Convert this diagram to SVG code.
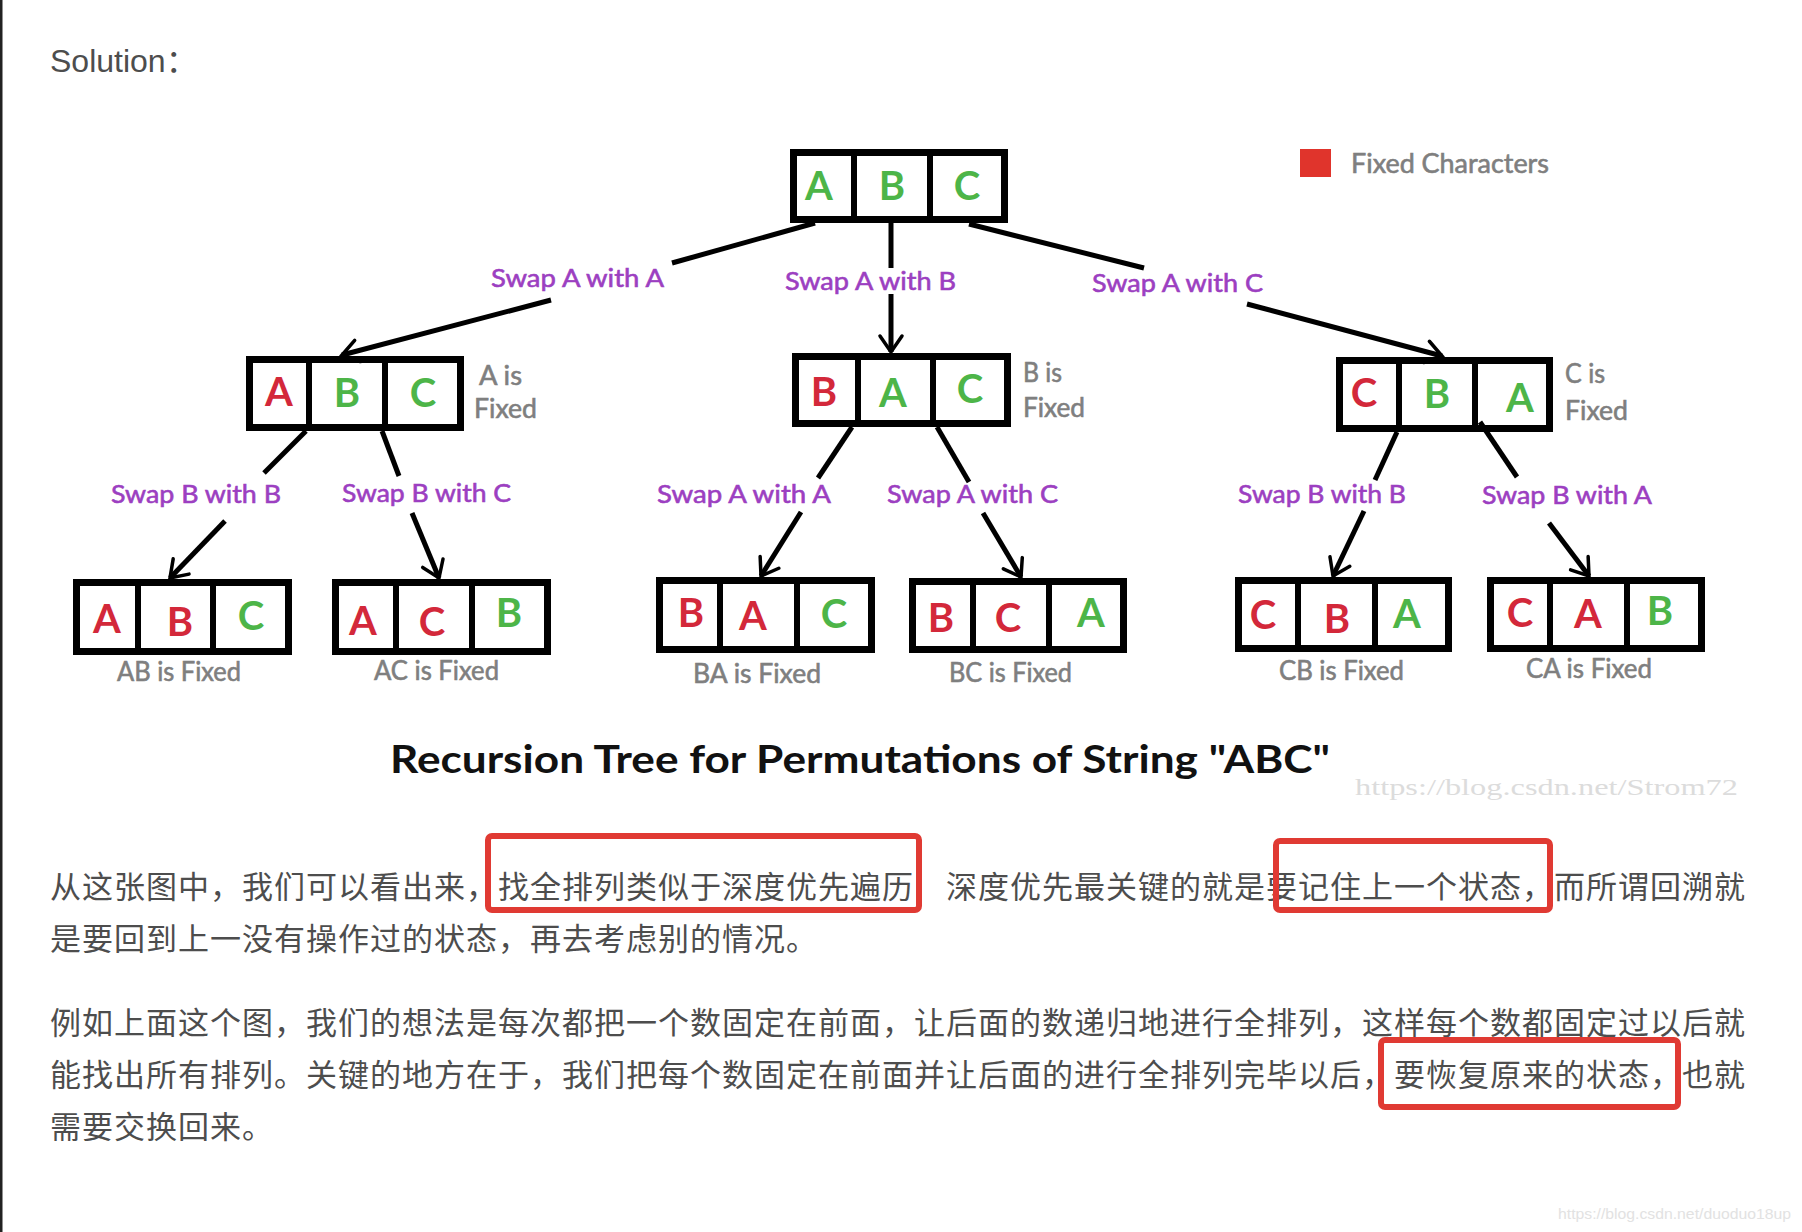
<svg xmlns="http://www.w3.org/2000/svg" width="1802" height="1232" viewBox="0 0 1802 1232">
<defs>
<marker id="arr" markerUnits="userSpaceOnUse" viewBox="-20 -14 24 28" refX="0" refY="0" markerWidth="24" markerHeight="28" orient="auto" overflow="visible">
<path d="M-16,-11 L0,0 L-16,11" fill="none" stroke="#000" stroke-width="3.5" stroke-linecap="round" stroke-linejoin="miter"/>
</marker>
</defs>
<style>
.box{fill:#fff;stroke:#000;stroke-width:7}
.dv{stroke:#000;stroke-width:6}
.lt{font-family:Lato,"Open Sans","Liberation Sans",sans-serif;font-size:40px;font-weight:700;text-anchor:middle}
.g{fill:#4db548}
.r{fill:#d3283a}
.sw{font-family:Lato,"Open Sans","Liberation Sans",sans-serif;font-size:25px;fill:#9c3fc1;stroke:#9c3fc1;stroke-width:0.6px}
.fx{font-family:Lato,"Open Sans","Liberation Sans",sans-serif;font-size:26px;fill:#7f7f7f;stroke:#7f7f7f;stroke-width:0.6px}
.ln{stroke:#000;stroke-width:5;fill:none}
.ar{marker-end:url(#arr)}
.cn{font-family:"Noto Sans CJK SC","Noto Sans CJK JP",sans-serif;font-size:31px;letter-spacing:1px;fill:#4d4d4d}
.hl{fill:none;stroke:#e03a33;stroke-width:6}
</style>
<rect x="0" y="0" width="1802" height="1232" fill="#fff"/>
<rect x="0" y="0" width="2.5" height="1232" fill="#222"/>

<text x="50" y="72" font-family="'Liberation Sans',Arial,'Noto Sans CJK SC',sans-serif" font-size="32" fill="#4d4d4d">Solution：</text>

<g id="legend">
<rect x="1300" y="149" width="31" height="28" fill="#e0342c"/>
<text class="fx" x="1351" y="173" font-size="25" textLength="198" lengthAdjust="spacingAndGlyphs">Fixed Characters</text>
</g>

<g id="node-root">
<rect class="box" x="793.5" y="152.5" width="211" height="67"/>
<line class="dv" x1="854" y1="149" x2="854" y2="223"/>
<line class="dv" x1="930" y1="149" x2="930" y2="223"/>
<text class="lt g" x="819" y="200" font-size="38">A</text>
<text class="lt g" x="892" y="200" font-size="38">B</text>
<text class="lt g" x="967" y="200" font-size="38">C</text>
</g>

<g id="node-abc-a">
<rect class="box" x="249.5" y="359.5" width="211" height="68"/>
<line class="dv" x1="309" y1="356" x2="309" y2="431"/>
<line class="dv" x1="385" y1="356" x2="385" y2="431"/>
<text class="lt r" x="279" y="406">A</text>
<text class="lt g" x="347" y="407">B</text>
<text class="lt g" x="423" y="407">C</text>
<text class="fx" x="479" y="385" textLength="43" lengthAdjust="spacingAndGlyphs">A is</text>
<text class="fx" x="474" y="418" textLength="63" lengthAdjust="spacingAndGlyphs">Fixed</text>
</g>

<g id="node-bac-b">
<rect class="box" x="795.5" y="356.5" width="212" height="67"/>
<line class="dv" x1="858" y1="353" x2="858" y2="427"/>
<line class="dv" x1="933" y1="353" x2="933" y2="427"/>
<text class="lt r" x="824" y="406">B</text>
<text class="lt g" x="893" y="407">A</text>
<text class="lt g" x="970" y="403">C</text>
<text class="fx" x="1023" y="382" textLength="39" lengthAdjust="spacingAndGlyphs">B is</text>
<text class="fx" x="1023" y="417" textLength="62" lengthAdjust="spacingAndGlyphs">Fixed</text>
</g>

<g id="node-cba-c">
<rect class="box" x="1339.5" y="360.5" width="210" height="68"/>
<line class="dv" x1="1399" y1="357" x2="1399" y2="432"/>
<line class="dv" x1="1475" y1="357" x2="1475" y2="432"/>
<text class="lt r" x="1364" y="407">C</text>
<text class="lt g" x="1437" y="408">B</text>
<text class="lt g" x="1520" y="412">A</text>
<text class="fx" x="1565" y="383" textLength="40" lengthAdjust="spacingAndGlyphs">C is</text>
<text class="fx" x="1565" y="420" textLength="63" lengthAdjust="spacingAndGlyphs">Fixed</text>
</g>

<g id="node-abc-ab">
<rect class="box" x="76.5" y="582.5" width="212" height="69"/>
<line class="dv" x1="138" y1="579" x2="138" y2="655"/>
<line class="dv" x1="213" y1="579" x2="213" y2="655"/>
<text class="lt r" x="107" y="633">A</text>
<text class="lt r" x="180" y="636">B</text>
<text class="lt g" x="251" y="630">C</text>
<text class="fx" x="117" y="681" textLength="124" lengthAdjust="spacingAndGlyphs">AB is Fixed</text>
</g>

<g id="node-acb-ac">
<rect class="box" x="335.5" y="582.5" width="212" height="69"/>
<line class="dv" x1="396" y1="579" x2="396" y2="655"/>
<line class="dv" x1="472" y1="579" x2="472" y2="655"/>
<text class="lt r" x="363" y="635">A</text>
<text class="lt r" x="432" y="636">C</text>
<text class="lt g" x="509" y="627">B</text>
<text class="fx" x="374" y="680" textLength="125" lengthAdjust="spacingAndGlyphs">AC is Fixed</text>
</g>

<g id="node-bac-ba">
<rect class="box" x="659.5" y="580.5" width="212" height="69"/>
<line class="dv" x1="720" y1="577" x2="720" y2="653"/>
<line class="dv" x1="797" y1="577" x2="797" y2="653"/>
<text class="lt r" x="691" y="627">B</text>
<text class="lt r" x="753" y="630">A</text>
<text class="lt g" x="834" y="628">C</text>
<text class="fx" x="693" y="683" textLength="128" lengthAdjust="spacingAndGlyphs">BA is Fixed</text>
</g>

<g id="node-bca-bc">
<rect class="box" x="912.5" y="581.5" width="211" height="68"/>
<line class="dv" x1="973" y1="578" x2="973" y2="653"/>
<line class="dv" x1="1049" y1="578" x2="1049" y2="653"/>
<text class="lt r" x="941" y="632">B</text>
<text class="lt r" x="1008" y="632">C</text>
<text class="lt g" x="1091" y="627">A</text>
<text class="fx" x="949" y="682" textLength="123" lengthAdjust="spacingAndGlyphs">BC is Fixed</text>
</g>

<g id="node-cba-cb">
<rect class="box" x="1238.5" y="580.5" width="210" height="68"/>
<line class="dv" x1="1298" y1="577" x2="1298" y2="652"/>
<line class="dv" x1="1375" y1="577" x2="1375" y2="652"/>
<text class="lt r" x="1263" y="629">C</text>
<text class="lt r" x="1337" y="633">B</text>
<text class="lt g" x="1407" y="628">A</text>
<text class="fx" x="1279" y="680" textLength="125" lengthAdjust="spacingAndGlyphs">CB is Fixed</text>
</g>

<g id="node-cab-ca">
<rect class="box" x="1490.5" y="580.5" width="211" height="68"/>
<line class="dv" x1="1550" y1="577" x2="1550" y2="652"/>
<line class="dv" x1="1627" y1="577" x2="1627" y2="652"/>
<text class="lt r" x="1520" y="627">C</text>
<text class="lt r" x="1588" y="628">A</text>
<text class="lt g" x="1660" y="625">B</text>
<text class="fx" x="1526" y="678" textLength="126" lengthAdjust="spacingAndGlyphs">CA is Fixed</text>
</g>

<g id="connectors">
<line class="ln" x1="815" y1="223" x2="672" y2="263"/>
<line class="ln ar" x1="551" y1="300" x2="342" y2="355"/>
<line class="ln" x1="891" y1="223" x2="891" y2="268"/>
<line class="ln ar" x1="891" y1="294" x2="891" y2="352"/>
<line class="ln" x1="969" y1="224" x2="1144" y2="268"/>
<line class="ln ar" x1="1247" y1="304" x2="1442" y2="356"/>

<line class="ln" x1="306" y1="431" x2="264" y2="473"/>
<line class="ln ar" x1="225" y1="521" x2="170" y2="578"/>
<line class="ln" x1="382" y1="431" x2="399" y2="476"/>
<line class="ln ar" x1="412" y1="513" x2="439" y2="578"/>

<line class="ln" x1="852" y1="427" x2="818" y2="478"/>
<line class="ln ar" x1="801" y1="512" x2="761" y2="576"/>
<line class="ln" x1="937" y1="427" x2="969" y2="482"/>
<line class="ln ar" x1="983" y1="513" x2="1021" y2="577"/>

<line class="ln" x1="1397" y1="432" x2="1375" y2="480"/>
<line class="ln ar" x1="1364" y1="511" x2="1333" y2="576"/>
<line class="ln" x1="1480" y1="422" x2="1517" y2="477"/>
<line class="ln ar" x1="1549" y1="523" x2="1589" y2="576"/>

<text class="sw" x="491" y="287" textLength="173" lengthAdjust="spacingAndGlyphs">Swap A with A</text>
<text class="sw" x="785" y="290" textLength="171" lengthAdjust="spacingAndGlyphs">Swap A with B</text>
<text class="sw" x="1092" y="292" textLength="171" lengthAdjust="spacingAndGlyphs">Swap A with C</text>
<text class="sw" x="111" y="503" textLength="170" lengthAdjust="spacingAndGlyphs">Swap B with B</text>
<text class="sw" x="342" y="502" textLength="169" lengthAdjust="spacingAndGlyphs">Swap B with C</text>
<text class="sw" x="657" y="503" textLength="174" lengthAdjust="spacingAndGlyphs">Swap A with A</text>
<text class="sw" x="887" y="503" textLength="171" lengthAdjust="spacingAndGlyphs">Swap A with C</text>
<text class="sw" x="1238" y="503" textLength="168" lengthAdjust="spacingAndGlyphs">Swap B with B</text>
<text class="sw" x="1482" y="504" textLength="170" lengthAdjust="spacingAndGlyphs">Swap B with A</text>
</g>

<text x="390" y="773" font-family="Lato,'Open Sans','Liberation Sans',sans-serif" font-size="39" font-weight="700" fill="#111" textLength="940" lengthAdjust="spacingAndGlyphs">Recursion Tree for Permutations of String "ABC"</text>
<text x="1355" y="795" font-family="'Liberation Serif',serif" font-size="24" fill="#dcdcdc" textLength="383" lengthAdjust="spacingAndGlyphs">https://blog.csdn.net/Strom72</text>

<g id="paragraphs">
<text class="cn" y="898"><tspan x="50">从这张图中，我们可以看出来，找全排列类似于深度优先遍历</tspan><tspan x="946">深度优先最关键的就是要记住上一个状态，而所谓回溯就</tspan></text>
<text class="cn" x="50" y="950">是要回到上一没有操作过的状态，再去考虑别的情况。</text>
<text class="cn" x="50" y="1034">例如上面这个图，我们的想法是每次都把一个数固定在前面，让后面的数递归地进行全排列，这样每个数都固定过以后就</text>
<text class="cn" x="50" y="1086">能找出所有排列。关键的地方在于，我们把每个数固定在前面并让后面的进行全排列完毕以后，要恢复原来的状态，也就</text>
<text class="cn" x="50" y="1138">需要交换回来。</text>
<rect class="hl" x="488" y="836" width="431" height="74" rx="4"/>
<rect class="hl" x="1276" y="841" width="274" height="69" rx="4"/>
<rect class="hl" x="1381" y="1040" width="297" height="67" rx="4"/>
</g>

<text x="1558" y="1219" font-family="'Liberation Sans',Arial,sans-serif" font-size="15" fill="#e2e2e2" textLength="233" lengthAdjust="spacingAndGlyphs">https://blog.csdn.net/duoduo18up</text>
</svg>
